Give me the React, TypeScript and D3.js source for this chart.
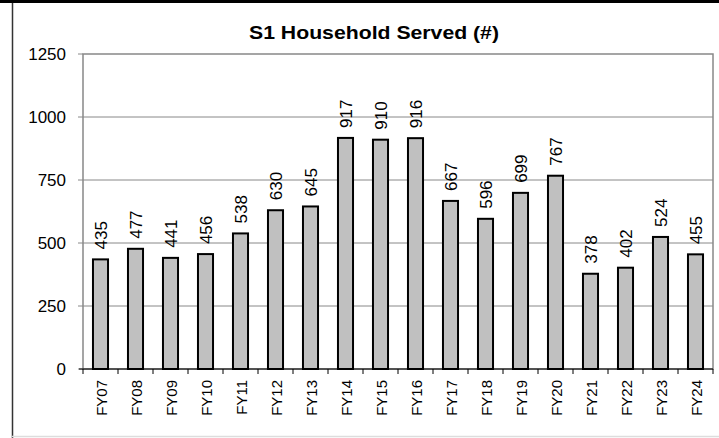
import React from "react";
import * as d3 from "d3";

const categories = ["FY07","FY08","FY09","FY10","FY11","FY12","FY13","FY14","FY15","FY16","FY17","FY18","FY19","FY20","FY21","FY22","FY23","FY24"];
const values = [435,477,441,456,538,630,645,917,910,916,667,596,699,767,378,402,524,455];
const yTicks = [0,250,500,750,1000,1250];
const title = "S1 Household Served (#)";

export default function App() {
  const W = 719, H = 438;
  const left = 83, right = 713, top = 54, bottom = 369;
  const x = d3.scaleBand().domain(categories).range([left, right]).paddingInner(0.57).paddingOuter(0.285);
  const y = d3.scaleLinear().domain([0, 1250]).range([bottom, top]);
  const step = (right - left) / categories.length;
  const font = "'Liberation Sans', Arial, sans-serif";
  return (
    <svg width={W} height={H} style={{ position: "absolute", left: 0, top: 0, fontFamily: font }}>
      <rect x={0} y={0} width={W} height={H} fill="#fff" />
      <rect x={0} y={0} width={W} height={3} fill="#000" />
      <line x1={12.5} y1={3} x2={12.5} y2={H} stroke="#333" strokeWidth={1.5} />
      <line x1={12} y1={436.5} x2={W} y2={436.5} stroke="#ddd" strokeWidth={1.5} />
      <text x={374} y={39} textAnchor="middle" fontSize={18} fontWeight="bold" fill="#000" textLength={250} lengthAdjust="spacingAndGlyphs">{title}</text>
      {yTicks.map(t => (
        <g key={t}>
          {t > 0 && t < 1250 && <line x1={left} x2={right} y1={y(t)} y2={y(t)} stroke="#888" strokeWidth={1} />}
          <line x1={left - 5} x2={left} y1={y(t)} y2={y(t)} stroke="#888" strokeWidth={1} />
          <text x={left - 17} y={y(t)} dy="0.36em" textAnchor="end" fontSize={17} fill="#000">{t}</text>
        </g>
      ))}
      <rect x={left} y={top} width={right - left} height={bottom - top} fill="none" stroke="#888" strokeWidth={1.5} />
      {categories.map((c, i) => {
        const bx = x(c)!;
        const bw = x.bandwidth();
        const v = values[i];
        const cx = bx + bw / 2;
        return (
          <g key={c}>
            <rect x={bx} y={y(v)} width={bw} height={bottom - y(v)} fill="#c0c0c0" stroke="#000" strokeWidth={2} />
            <text transform={`translate(${cx + 6},${y(v) - 10}) rotate(-90)`} fontSize={17} fill="#000">{v}</text>
            <text transform={`translate(${cx + 6},${bottom + 11}) rotate(-90)`} textAnchor="end" fontSize={15} fill="#000">{c}</text>
          </g>
        );
      })}
      <line x1={left - 4} x2={right} y1={bottom} y2={bottom} stroke="#000" strokeWidth={1} />
      {d3.range(categories.length + 1).map(i => (
        <line key={i} x1={left + i * step} x2={left + i * step} y1={bottom} y2={bottom + 5} stroke="#000" strokeWidth={1} />
      ))}
    </svg>
  );
}
